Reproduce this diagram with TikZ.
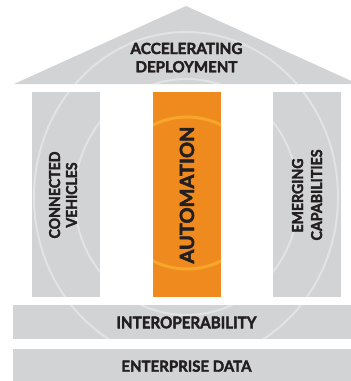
\documentclass[tikz,border=0pt]{standalone}
\usepackage{fontspec}
\setmainfont{Lato}[BoldFeatures={FakeBold=2.5}]
\definecolor{pgray}{HTML}{D1D3D4}
\definecolor{pring}{HTML}{E2E3E4}
\definecolor{porange}{HTML}{EF8A1F}
\definecolor{pyring}{HTML}{F6A72A}
\definecolor{ptext}{HTML}{231F20}
\newcommand{\fitw}[2]{\resizebox{#1pt}{\height}{#2}}
\begin{document}
\begin{tikzpicture}[x=1pt,y=-1pt,
  block/.style={fill=pgray,draw=none},
  oblock/.style={fill=porange,draw=none},
  ring/.style={draw=pring,line width=2pt},
  oring/.style={draw=pyring,line width=3pt},
  lbl/.style={text=ptext,font=\bfseries,inner sep=0pt,anchor=base},
  vlbl/.style={lbl,rotate=90}]
\useasboundingbox (0,0) rectangle (351,381);
% roof
\fill[pgray] (14,84) -- (186,6) -- (358,84) -- cycle;
% pillars
\fill[pgray] (32,92) rectangle (100,297);
\fill[porange] (153,92) rectangle (221,297);
\fill[pgray] (273,92) rectangle (341,297);
% bands
\fill[pgray] (13,305) rectangle (360,339);
\fill[pgray] (13,349) rectangle (360,381);
% rings on grey shapes
\begin{scope}
\clip (14,84) -- (186,6) -- (358,84) -- cycle
      (32,92) rectangle (100,297)
      (273,92) rectangle (341,297)
      (13,305) rectangle (360,339);
\draw[ring] (186,197) ellipse [x radius=152, y radius=165];
\draw[ring] (186.5,197) ellipse [x radius=112, y radius=118];
\end{scope}
\begin{scope}
\clip (153,92) rectangle (221,297);
\draw[oring] (187,193) circle [radius=76];
\end{scope}
% labels
\node[lbl,font=\bfseries\fontsize{15.3}{18}\selectfont] (t1) at (186.5,54) {\fitw{112}{ACCELERATING}};
\node[lbl,font=\bfseries\fontsize{15.3}{18}\selectfont] (t2) at (186.5,72.3) {\fitw{102}{DEPLOYMENT}};
\node[vlbl,font=\bfseries\fontsize{15}{18}\selectfont] (c1) at (60,195) {\fitw{87}{CONNECTED}};
\node[vlbl,font=\bfseries\fontsize{15}{18}\selectfont] (c2) at (77,195) {\fitw{65}{VEHICLES}};
\node[vlbl,font=\bfseries\fontsize{19.5}{22}\selectfont] (a1) at (194,195) {\fitw{137}{AUTOMATION}};
\node[vlbl,font=\bfseries\fontsize{15}{18}\selectfont] (e1) at (303,195.5) {\fitw{74}{EMERGING}};
\node[vlbl,font=\bfseries\fontsize{15}{18}\selectfont] (e2) at (322,195) {\fitw{91}{CAPABILITIES}};
\node[lbl,font=\bfseries\fontsize{16.2}{18}\selectfont] (i1) at (186.5,328.3) {\fitw{140}{INTEROPERABILITY}};
\node[lbl,font=\bfseries\fontsize{15.3}{18}\selectfont] (d1) at (186.5,371.7) {\fitw{130}{ENTERPRISE DATA}};
\end{tikzpicture}
\end{document}
